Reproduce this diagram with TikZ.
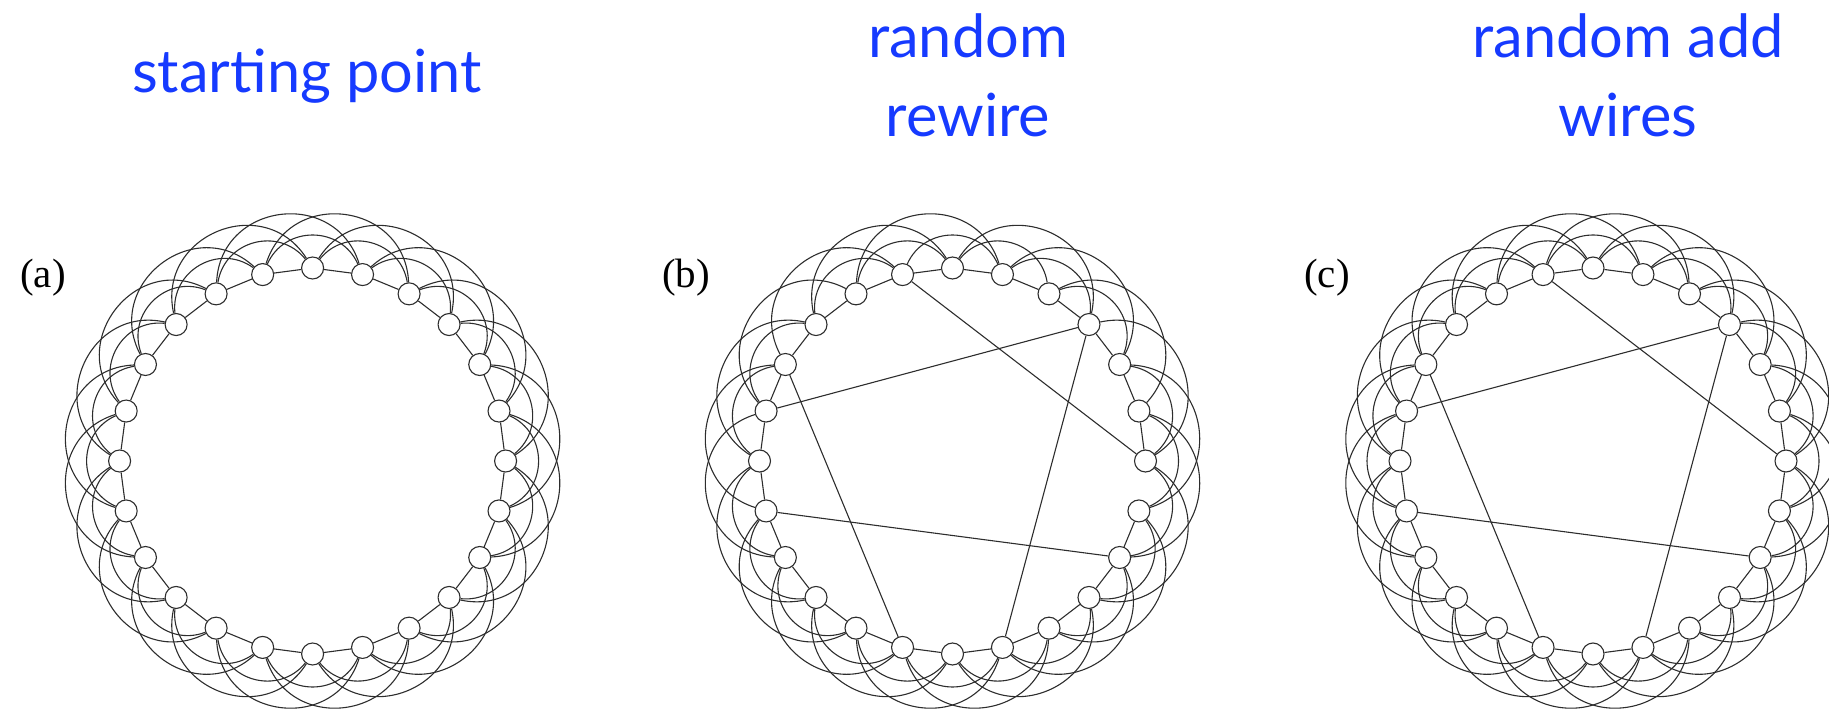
\documentclass[tikz,border=0pt]{standalone}
\usepackage{fontspec}
\setmainfont{Liberation Serif}
\newfontfamily\titlefont{Lato}
\definecolor{titleblue}{RGB}{22,58,255}
\definecolor{edgegray}{RGB}{45,45,45}
\makeatletter
\newcommand\checkskip[4]{\edef\cs@tmp{\noexpand\in@{,#2,}{,#1,}}\cs@tmp\ifin@#3\else#4\fi}
\makeatother
\newcommand\drawring[2]{%
  \foreach \k in {0,...,23} \node[vtx] (#1\k) at ({90-15*\k}:193pt) {};
  \foreach \k in {0,...,23} {%
    \pgfmathtruncatemacro\ma{mod(\k+1,24)}%
    \pgfmathtruncatemacro\mb{mod(\k+2,24)}%
    \pgfmathtruncatemacro\mc{mod(\k+3,24)}%
    \checkskip{#2}{\k-1}{}{\draw[lat] (#1\k) -- (#1\ma);}%
    \checkskip{#2}{\k-2}{}{\draw[lat] (#1\k) to[bend left=66, looseness=1.2] (#1\mb);}%
    \checkskip{#2}{\k-3}{}{\draw[lat] (#1\k) to[bend left=80, looseness=1.42] (#1\mc);}%
  }%
}
\newcommand\shortcuts[1]{%
  \draw[lat] (#123) -- (#16);
  \draw[lat] (#13) -- (#119);
  \draw[lat] (#13) -- (#111);
  \draw[lat] (#120) -- (#113);
  \draw[lat] (#117) -- (#18);
}
\tikzset{
  vtx/.style={circle, draw=edgegray, fill=white, line width=1.1pt, minimum size=22pt, inner sep=0pt},
  lat/.style={draw=edgegray, line width=1.1pt},
  title/.style={font=\titlefont\fontsize{59.5}{59.5}\selectfont, text=titleblue, anchor=base, inner sep=0pt},
  panel/.style={font=\fontsize{41}{41}\selectfont, anchor=center, inner sep=0pt}
}
\begin{document}
\begin{tikzpicture}[x=1pt, y=1pt]
\useasboundingbox (0,0) rectangle (1829,710);
% titles
\node[title] (t1) at (307,617) {starting point};
\node[title] (t2a) at (968,652) {random};
\node[title] (t2b) at (968,573.5) {rewire};
\node[title] (t3a) at (1628,652) {random add};
\node[title] (t3b) at (1628,573.5) {wires};
% panel labels
\node[panel] (la) at (43,432) {(a)};
\node[panel] (lb) at (686,432) {(b)};
\node[panel] (lc) at (1327,432) {(c)};
% rings
\begin{scope}[shift={(312.6,249)}]
  \drawring{a}{}
\end{scope}
\begin{scope}[shift={(952.5,249)}]
  \drawring{b}{6-1,3-2,23-3,20-2,17-2}
  \shortcuts{b}
\end{scope}
\begin{scope}[shift={(1593,249)}]
  \drawring{c}{}
  \shortcuts{c}
\end{scope}
\end{tikzpicture}
\end{document}
